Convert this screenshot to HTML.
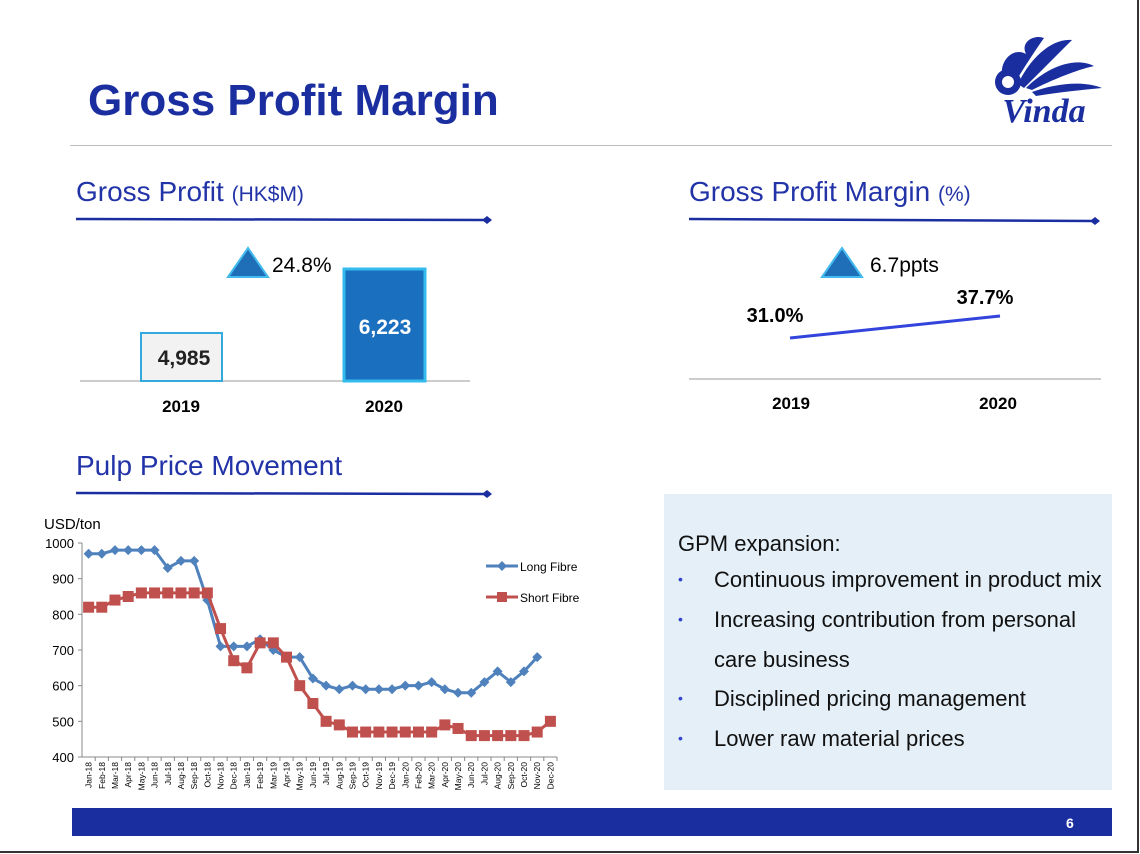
<!DOCTYPE html>
<html><head><meta charset="utf-8"><style>
body{margin:0;width:1140px;height:854px;background:#fff;font-family:"Liberation Sans",sans-serif;position:relative;overflow:hidden}
.a{position:absolute;white-space:nowrap}
.h{color:#2233a8;font-size:28px}
.h small{font-size:21px}
.bull{font-size:22px;color:#111}
.dot{color:#3344cc;font-size:14px;position:absolute;left:14px}
</style></head><body>
<div class="a" style="left:0;top:0;width:1137px;height:851px;border-right:2px solid #333;border-bottom:2px solid #333"></div>
<div class="a" style="left:88px;top:76px;font-size:44px;font-weight:bold;color:#1a2ea0">Gross Profit Margin</div>
<svg class="a" style="left:982px;top:32px" width="125" height="95" viewBox="0 0 125 95">
<g fill="#1a2ea0"><path d="M22 50 C14 32 30 14 44 22 C38 10 52 2 62 6 C52 20 42 36 32 52Z"/><path d="M36 52 C48 26 70 6 90 8 C76 22 58 40 42 56Z"/><path d="M44 56 C64 36 92 24 112 34 C94 38 70 48 50 58Z"/><path d="M50 60 C72 52 100 48 120 56 C100 58 78 60 54 64Z"/><circle cx="26" cy="50" r="13"/><circle cx="26" cy="50" r="6" fill="#fff"/></g>
<text x="62" y="90" text-anchor="middle" font-family="Liberation Serif" font-style="italic" font-weight="bold" font-size="34" fill="#1a2ea0">Vinda</text></svg>
<div class="a" style="left:70px;top:145px;width:1042px;height:1px;background:#bbb"></div>

<div class="a h" style="left:76px;top:176px">Gross Profit <small>(HK$M)</small></div>
<svg class="a" style="left:74px;top:214px" width="420" height="12"><line x1="2" y1="5" x2="410" y2="6" stroke="#1a2ea0" stroke-width="2.5"/><path d="M408 6 L413 2 L418 6 L413 10Z" fill="#1a2ea0"/></svg>
<div class="a h" style="left:689px;top:176px">Gross Profit Margin <small>(%)</small></div>
<svg class="a" style="left:687px;top:214px" width="420" height="12"><line x1="2" y1="5" x2="406" y2="7" stroke="#1a2ea0" stroke-width="2.5"/><path d="M403 7 L408 3 L413 7 L408 11Z" fill="#1a2ea0"/></svg>

<svg class="a" style="left:0;top:0" width="1140" height="430">
<line x1="80" y1="381" x2="470" y2="381" stroke="#999" stroke-width="1"/>
<rect x="141" y="333" width="81" height="48" fill="#f2f2f2" stroke="#33aadd" stroke-width="2"/>
<rect x="344" y="269" width="81" height="112" fill="#1a6fbf" stroke="#33bbee" stroke-width="3"/>
<text x="184" y="365" text-anchor="middle" font-size="21" font-weight="bold" fill="#222">4,985</text>
<text x="385" y="334" text-anchor="middle" font-size="21" font-weight="bold" fill="#fff">6,223</text>
<text x="181" y="412" text-anchor="middle" font-size="17" font-weight="bold">2019</text>
<text x="384" y="412" text-anchor="middle" font-size="17" font-weight="bold">2020</text>
<path d="M228 277 L248 248 L268 277Z" fill="#1f6fb8" stroke="#44bbee" stroke-width="2"/>
<text x="272" y="272" font-size="21">24.8%</text>
<line x1="689" y1="379" x2="1101" y2="379" stroke="#999"/>
<line x1="790" y1="338" x2="1000" y2="316" stroke="#3344dd" stroke-width="3"/>
<text x="775" y="322" text-anchor="middle" font-size="20" font-weight="bold">31.0%</text>
<text x="985" y="304" text-anchor="middle" font-size="20" font-weight="bold">37.7%</text>
<text x="791" y="409" text-anchor="middle" font-size="17" font-weight="bold">2019</text>
<text x="998" y="409" text-anchor="middle" font-size="17" font-weight="bold">2020</text>
<path d="M822 277 L842 248 L862 277Z" fill="#1f6fb8" stroke="#44bbee" stroke-width="2"/>
<text x="870" y="272" font-size="21">6.7ppts</text>
</svg>

<div class="a h" style="left:76px;top:450px">Pulp Price Movement</div>
<svg class="a" style="left:74px;top:488px" width="420" height="12"><line x1="2" y1="5" x2="410" y2="6" stroke="#1a2ea0" stroke-width="2.5"/><path d="M408 6 L413 2 L418 6 L413 10Z" fill="#1a2ea0"/></svg>

<svg class="a" id="pulp" style="left:0;top:505px" width="640" height="300"></svg>

<div class="a" style="left:664px;top:494px;width:448px;height:296px;background:#e4eff7">
<div class="a bull" style="left:14px;top:37px">GPM expansion:</div>
<div class="a bull" style="left:50px;top:73px"><span class="dot" style="left:-36px;top:4px">•</span>Continuous improvement in product mix</div>
<div class="a bull" style="left:50px;top:113px"><span class="dot" style="left:-36px;top:4px">•</span>Increasing contribution from personal</div>
<div class="a bull" style="left:50px;top:153px">care business</div>
<div class="a bull" style="left:50px;top:192px"><span class="dot" style="left:-36px;top:4px">•</span>Disciplined pricing management</div>
<div class="a bull" style="left:50px;top:232px"><span class="dot" style="left:-36px;top:4px">•</span>Lower raw material prices</div>
</div>

<div class="a" style="left:72px;top:808px;width:1040px;height:28px;background:#1a2ea0"></div>
<div class="a" style="left:1066px;top:815px;color:#fff;font-size:14px;font-weight:bold">6</div>

<script>
const months = ["Jan-18","Feb-18","Mar-18","Apr-18","May-18","Jun-18","Jul-18","Aug-18","Sep-18","Oct-18","Nov-18","Dec-18","Jan-19","Feb-19","Mar-19","Apr-19","May-19","Jun-19","Jul-19","Aug-19","Sep-19","Oct-19","Nov-19","Dec-19","Jan-20","Feb-20","Mar-20","Apr-20","May-20","Jun-20","Jul-20","Aug-20","Sep-20","Oct-20","Nov-20","Dec-20"];
const longFibre = [970,970,980,980,980,980,930,950,950,840,710,710,710,730,700,680,680,620,600,590,600,590,590,590,600,600,610,590,580,580,610,640,610,640,680];
const shortFibre = [820,820,840,850,860,860,860,860,860,860,760,670,650,720,720,680,600,550,500,490,470,470,470,470,470,470,470,490,480,460,460,460,460,460,470,500];
const yTicks = [400,500,600,700,800,900,1000];

const svg = document.getElementById('pulp');
const NS = 'http://www.w3.org/2000/svg';
const X0 = 82, X1 = 557, Y0 = 252, Y1 = 38;
const bw = (X1 - X0) / months.length;
const xc = i => X0 + bw * (i + 0.5);
const y = v => Y0 - (v - 400) / 600 * (Y0 - Y1);
function mk(tag, attrs, parent) { const e = document.createElementNS(NS, tag); for (const k in attrs) e.setAttribute(k, attrs[k]); (parent || svg).appendChild(e); return e; }

const unit = mk('text', {x: 44, y: 24, 'font-size': 15}); unit.textContent = 'USD/ton';


mk('line', {x1: X0, y1: Y1, x2: X0, y2: Y0, stroke: '#888'});
mk('line', {x1: X0, y1: Y0, x2: X1, y2: Y0, stroke: '#888'});
yTicks.forEach(t => {
  mk('line', {x1: X0 - 4, y1: y(t), x2: X0, y2: y(t), stroke: '#888'});
  const tx = mk('text', {x: X0 - 8, y: y(t) + 5, 'text-anchor': 'end', 'font-size': 13}); tx.textContent = t;
  
  
});
months.forEach((m, i) => {
  mk('line', {x1: X0 + bw * (i + 1), y1: Y0, x2: X0 + bw * (i + 1), y2: Y0 + 4, stroke: '#888'});
  const tx = mk('text', {x: 0, y: 0, 'font-size': 8.5, 'text-anchor': 'end', transform: `translate(${xc(i) + 3},${Y0 + 5}) rotate(-90)`}); tx.textContent = m;
  
  
});
function series(vals, color, marker, name) {
  const pl = mk('polyline', {points: vals.map((v, i) => xc(i) + ',' + y(v)).join(' '), fill: 'none', stroke: color, 'stroke-width': 3});
  
  
  vals.forEach((v, i) => {
    let m;
    if (marker === 'd') m = mk('path', {d: `M${xc(i)} ${y(v) - 5} l5 5 l-5 5 l-5 -5Z`, fill: color});
    else m = mk('rect', {x: xc(i) - 5.5, y: y(v) - 5.5, width: 11, height: 11, fill: color});
    
    
  });
}
series(longFibre, '#4f81bd', 'd', 'long-fibre');
series(shortFibre, '#c0504d', 's', 'short-fibre');
mk('line', {x1: 486, y1: 61, x2: 518, y2: 61, stroke: '#4f81bd', 'stroke-width': 3});
mk('path', {d: 'M502 56 l5 5 l-5 5 l-5 -5Z', fill: '#4f81bd'});
const l1 = mk('text', {x: 520, y: 66, 'font-size': 12}); l1.textContent = 'Long Fibre';


mk('line', {x1: 486, y1: 92, x2: 518, y2: 92, stroke: '#c0504d', 'stroke-width': 3});
mk('rect', {x: 497, y: 87, width: 10, height: 10, fill: '#c0504d'});
const l2 = mk('text', {x: 520, y: 97, 'font-size': 12}); l2.textContent = 'Short Fibre';


</script>
</body></html>
